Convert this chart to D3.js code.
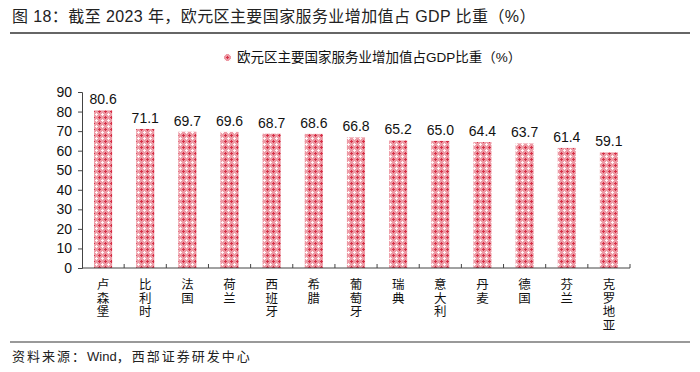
<!DOCTYPE html>
<html>
<head>
<meta charset="utf-8">
<script src="https://cdn.jsdelivr.net/npm/d3@7/dist/d3.min.js"></script>
<style>
  body { margin: 0; background: #fff; }
  svg { display: block; }
</style>
</head>
<body>
<svg id="chart" width="700" height="372"></svg>
<script>
const countries = ["卢森堡", "比利时", "法国", "荷兰", "西班牙", "希腊", "葡萄牙", "瑞典", "意大利", "丹麦", "德国", "芬兰", "克罗地亚"];
const shares = [80.6, 71.1, 69.7, 69.6, 68.7, 68.6, 66.8, 65.2, 65.0, 64.4, 63.7, 61.4, 59.1];
const yTicks = [0, 10, 20, 30, 40, 50, 60, 70, 80, 90];

const titleText = "图 18：截至 2023 年，欧元区主要国家服务业增加值占 GDP 比重（%）";
const legendText = "欧元区主要国家服务业增加值占GDP比重（%）";
const sourceParts = ["资料来源：", "Wind", "，西部证券研发中心"];

// latin glyphs in Arial-like face, CJK falls through to Noto
const mixed = "'Liberation Sans', 'Noto Sans CJK SC', sans-serif";
const cjk = "'Noto Sans CJK SC', sans-serif";

const svg = d3.select("#chart");
const margin = { left: 82, right: 70, top: 92, bottom: 104 };
const W = 700, H = 372;

// small red/white cross lattice used in the bars
const defs = svg.append("defs");
const pat = defs.append("pattern")
  .attr("id", "redCheck")
  .attr("patternUnits", "userSpaceOnUse")
  .attr("width", 6)
  .attr("height", 6);
pat.append("rect").attr("width", 6).attr("height", 6).attr("fill", "#ed9aa5");
[[3, 2], [2, 3], [3, 3], [4, 3], [3, 4]].forEach(([px, py]) => {
  pat.append("rect").attr("x", px).attr("y", py).attr("width", 1).attr("height", 1).attr("fill", "#d62f46");
});
[[0, 0], [1, 0], [5, 0], [0, 1], [0, 5]].forEach(([px, py]) => {
  pat.append("rect").attr("x", px).attr("y", py).attr("width", 1).attr("height", 1).attr("fill", "#fff6f7");
});

// title + rules
svg.append("text")
  .attr("x", 12).attr("y", 22)
  .attr("font-family", mixed)
  .attr("font-size", 16)
  .style("letter-spacing", "0.4px")
  .attr("fill", "#222")
  .text(titleText);

svg.append("line")
  .attr("x1", 10).attr("x2", 690)
  .attr("y1", 33).attr("y2", 33)
  .attr("stroke", "#666").attr("stroke-width", 2);

svg.append("line")
  .attr("x1", 10).attr("x2", 690)
  .attr("y1", 342).attr("y2", 342)
  .attr("stroke", "#777").attr("stroke-width", 1.5);

const source = svg.append("text")
  .attr("x", 12).attr("y", 361)
  .attr("font-family", mixed)
  .attr("font-size", 13)
  .attr("fill", "#222");
source.selectAll("tspan")
  .data(sourceParts)
  .enter()
  .append("tspan")
  .style("letter-spacing", (d, i) => (i === 1 ? "0px" : "2px"))
  .text((d) => d);

// legend
const legend = svg.append("g").attr("transform", "translate(224,54)");
legend.append("rect")
  .attr("width", 7).attr("height", 7)
  .attr("fill", "url(#redCheck)");
legend.append("text")
  .attr("x", 13).attr("y", 8)
  .attr("font-family", mixed)
  .attr("font-size", 13.5)
  .attr("fill", "#111")
  .text(legendText);

// scales
const x = d3.scaleBand()
  .domain(countries)
  .range([margin.left, W - margin.right])
  .paddingInner(0.57)
  .paddingOuter(0.285);

const y = d3.scaleLinear()
  .domain([0, 90])
  .range([H - margin.bottom, margin.top]);

// bars
svg.append("g")
  .selectAll("rect")
  .data(countries)
  .enter()
  .append("rect")
  .attr("x", (d) => x(d))
  .attr("y", (d, i) => y(shares[i]))
  .attr("width", x.bandwidth())
  .attr("height", (d, i) => y(0) - y(shares[i]))
  .attr("fill", "url(#redCheck)");

// value labels
svg.append("g")
  .selectAll("text")
  .data(countries)
  .enter()
  .append("text")
  .attr("x", (d) => x(d) + x.bandwidth() / 2)
  .attr("y", (d, i) => y(shares[i]) - 6)
  .attr("text-anchor", "middle")
  .attr("font-family", mixed)
  .attr("font-size", 14)
  .attr("fill", "#111")
  .text((d, i) => shares[i].toFixed(1));

// y axis
const yAxis = svg.append("g")
  .attr("transform", `translate(${margin.left},0)`)
  .call(d3.axisLeft(y).tickValues(yTicks).tickSize(4).tickPadding(6));
yAxis.select(".domain").attr("stroke", "#444");
yAxis.selectAll(".tick line").attr("stroke", "#444");
yAxis.selectAll(".tick text")
  .attr("font-family", mixed)
  .attr("font-size", 14)
  .attr("fill", "#111");

// x axis: ticks on the category boundaries, pointing up
const step = x.step();
const bounds = d3.range(countries.length + 1).map((i) => margin.left + i * step);
const xAxis = svg.append("g");
xAxis.append("line")
  .attr("x1", margin.left).attr("x2", W - margin.right)
  .attr("y1", y(0)).attr("y2", y(0))
  .attr("stroke", "#444");
xAxis.selectAll(".xt")
  .data(bounds.slice(1))
  .enter()
  .append("line")
  .attr("class", "xt")
  .attr("x1", (d) => d).attr("x2", (d) => d)
  .attr("y1", y(0)).attr("y2", y(0) - 4)
  .attr("stroke", "#444");

// vertical category labels, one text each, stacked top to bottom
svg.append("g")
  .selectAll("text")
  .data(countries)
  .enter()
  .append("text")
  .attr("x", (d) => x(d) + x.bandwidth() / 2)
  .attr("y", y(0) + 10)
  .attr("font-family", cjk)
  .attr("font-size", 12.5)
  .attr("fill", "#111")
  .style("writing-mode", "vertical-rl")
  .style("text-orientation", "upright")
  .style("letter-spacing", "1px")
  .text((d) => d);
</script>
</body>
</html>
